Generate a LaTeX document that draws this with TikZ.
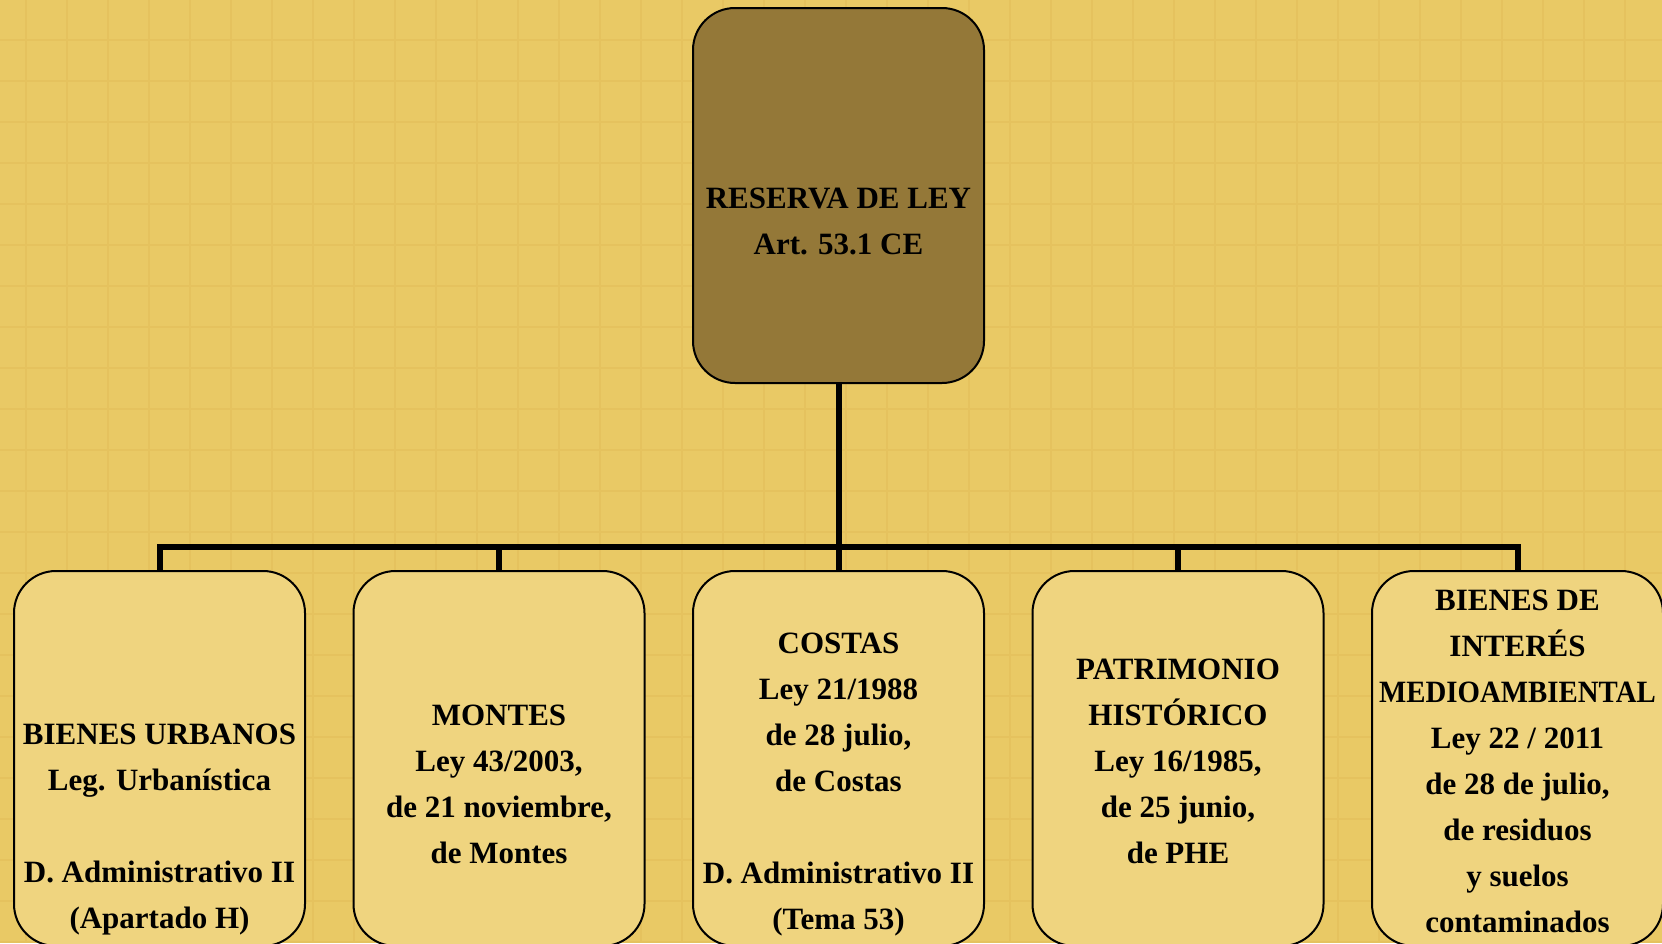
\documentclass[tikz,border=0pt]{standalone}
\usepackage{fontspec}
\setmainfont{Liberation Serif}
\definecolor{bg}{HTML}{E9C965}
\definecolor{gridc}{HTML}{E5C25E}
\definecolor{topfill}{HTML}{947838}
\definecolor{boxfill}{HTML}{EFD47F}
\begin{document}
\begin{tikzpicture}[x=1pt,y=-1pt,
  box/.style={draw=black,line width=2pt,rounded corners=42pt,minimum width=291pt,minimum height=375pt,inner sep=0pt},
  topbox/.style={box,fill=topfill},
  leaf/.style={box,fill=boxfill},
  lbl/.style={font=\fontsize{31}{46}\selectfont\bfseries,align=center,inner sep=0pt,text=black},
  conn/.style={line width=6pt,draw=black},
  gridline/.style={draw=gridc,line width=1.5pt}]
\useasboundingbox (0,0) rectangle (1662,943);
\clip (0,0) rectangle (1662,943);
\fill[bg] (0,0) rectangle (1662,943);
\foreach \x in {26,67,...,1662} \draw[gridline] (\x,0) -- (\x,943);
\foreach \y in {40,81,...,943} \draw[gridline] (0,\y) -- (1662,\y);
% boxes
\node[topbox] (top) at (838.5,195.5) {};
\node[leaf] (b1) at (159.5,758.5) {};
\node[leaf] (b2) at (499,758.5) {};
\node[leaf] (b3) at (838.5,758.5) {};
\node[leaf] (b4) at (1178,758.5) {};
\node[leaf] (b5) at (1517.5,758.5) {};
% connectors
\coordinate (bus) at (838.5,547);
\draw[conn] (top.south) -- (bus);
\foreach \b in {b1,b2,b3,b4,b5} \draw[conn] (bus) -| (\b.north);
% labels
\node[lbl] (t0) at (838.5,221.5) {RESERVA DE LEY\\Art. 53.1 CE};
\node[lbl] (t1) at (159.5,830) {BIENES URBANOS\\Leg. Urbanística\\[46pt]D. Administrativo II\\(Apartado H)};
\node[lbl] (t2) at (499,784) {MONTES\\Ley 43/2003,\\de 21 noviembre,\\de Montes};
\node[lbl] (t3) at (838.5,785) {COSTAS\\Ley 21/1988\\de 28 julio,\\de Costas\\[46pt]D. Administrativo II\\(Tema 53)};
\node[lbl] (t4) at (1178,761) {PATRIMONIO\\HISTÓRICO\\Ley 16/1985,\\de 25 junio,\\de PHE};
\node[lbl] (t5) at (1517.5,761.5) {BIENES DE\\INTERÉS\\\scalebox{0.93}[1]{MEDIOAMBIENTAL}\\Ley 22 / 2011\\de 28 de julio,\\de residuos\\y suelos\\contaminados};
\end{tikzpicture}
\end{document}
